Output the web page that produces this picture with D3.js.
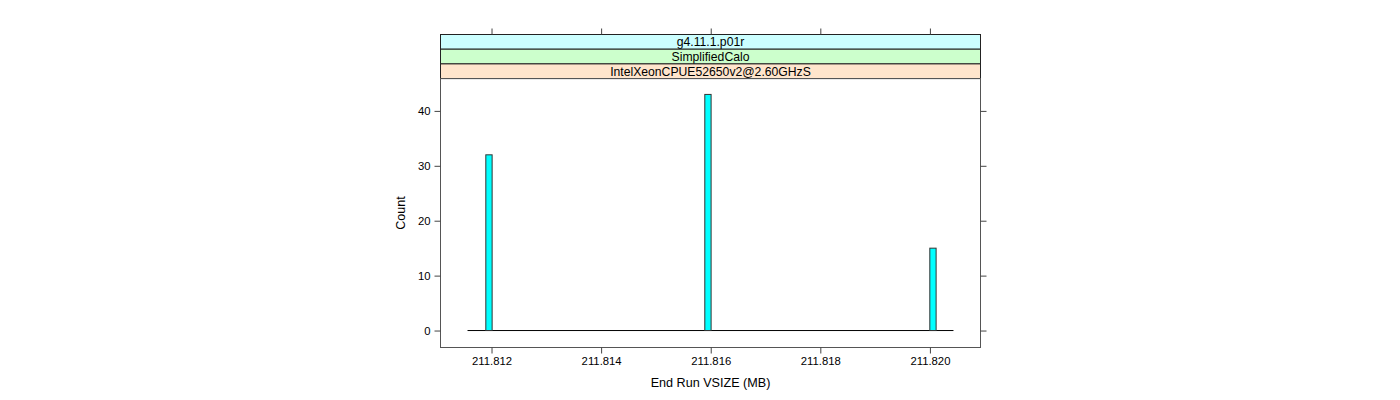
<!DOCTYPE html>
<html><head><meta charset="utf-8">
<script src="https://cdn.jsdelivr.net/npm/d3@7"></script>
<style>body{margin:0;background:#fff}svg{display:block}text{font-family:"Liberation Sans",Arial,sans-serif}</style>
</head><body><svg id="c" width="1400" height="400"></svg>
<script>
// Data
const binLefts = [211.811896, 211.815892, 211.819998];
const binWidth = 0.000115;
const counts = [32, 43, 15];
const histRange = [211.811562, 211.82043];
const xTicks = [211.812, 211.814, 211.816, 211.818, 211.820];
const yTicks = [0, 10, 20, 30, 40];
const strips = ["g4.11.1.p01r", "SimplifiedCalo", "IntelXeonCPUE52650v2@2.60GHzS"];
const stripColors = ["#ccffff", "#ccffcc", "#ffe5cc"];
const xLabel = "End Run VSIZE (MB)";
const yLabel = "Count";

const svg = d3.select("#c");
const L = 440.5, R = 980.5, T = 78.5, B = 347.5;
const stripH = 14.7, stripTop = 34.5;
const x = d3.scaleLinear().domain([211.811069, 211.820923]).range([L, R]);
const y = d3.scaleLinear().domain([-3.09, 45.9]).range([B, T]);
const fs = 11.3;

// strips (top to bottom)
strips.forEach((s, i) => {
  const y0 = stripTop + i * stripH;
  svg.append("rect").attr("x", L).attr("y", y0).attr("width", R - L).attr("height", stripH)
    .attr("fill", stripColors[i]).attr("stroke", "#222").attr("stroke-width", 1);
  svg.append("text").attr("x", (L + R) / 2).attr("y", y0 + stripH / 2 + 4.3)
    .attr("text-anchor", "middle").attr("font-size", 12.2).attr("fill", "#000").text(s);
});

// panel border
svg.append("rect").attr("x", L).attr("y", T).attr("width", R - L).attr("height", B - T)
  .attr("fill", "none").attr("stroke", "#555").attr("stroke-width", 1);

// axes
const tickStroke = "#444";
const xb = svg.append("g").attr("transform", `translate(0,${B})`)
  .call(d3.axisBottom(x).tickValues(xTicks).tickFormat(d3.format(".3f")).tickSize(6).tickPadding(3));
const xt = svg.append("g").attr("transform", `translate(0,${stripTop})`)
  .call(d3.axisTop(x).tickValues(xTicks).tickFormat("").tickSize(6));
const yl = svg.append("g").attr("transform", `translate(${L},0)`)
  .call(d3.axisLeft(y).tickValues(yTicks).tickSize(6).tickPadding(4));
const yr = svg.append("g").attr("transform", `translate(${R},0)`)
  .call(d3.axisRight(y).tickValues(yTicks).tickFormat("").tickSize(6));
[xb, xt, yl, yr].forEach(g => {
  g.select(".domain").remove();
  g.selectAll(".tick line").attr("stroke", tickStroke);
  g.selectAll("text").attr("font-size", fs).attr("fill", "#000").attr("font-family", '"Liberation Sans",Arial,sans-serif');
});

// baseline of histogram (zero-height bins)
svg.append("line").attr("x1", x(histRange[0])).attr("x2", x(histRange[1]))
  .attr("y1", y(0)).attr("y2", y(0)).attr("stroke", "#000").attr("stroke-width", 1);

// bars
svg.selectAll("rect.bar").data(counts).enter().append("rect").attr("class", "bar")
  .attr("x", (d, i) => x(binLefts[i]))
  .attr("width", (d, i) => x(binLefts[i] + binWidth) - x(binLefts[i]))
  .attr("y", d => y(d)).attr("height", d => y(0) - y(d))
  .attr("fill", "#00ffff").attr("stroke", "#333").attr("stroke-width", 1);

// labels
svg.append("text").attr("x", (L + R) / 2).attr("y", 387).attr("text-anchor", "middle")
  .attr("font-size", 12.6).text(xLabel);
svg.append("text").attr("transform", `translate(405,${(T + B) / 2}) rotate(-90)`)
  .attr("text-anchor", "middle").attr("font-size", 12.6).text(yLabel);
</script></body></html>
